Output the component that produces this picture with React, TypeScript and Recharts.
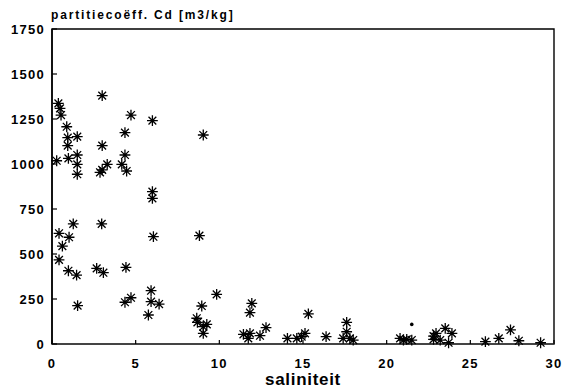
import React from 'react';
import {
    ScatterChart,
    Scatter,
    XAxis,
    YAxis,
    ReferenceArea
} from 'recharts';

// saliniteit (x) en partitiecoëfficiënt Cd (y)
const salinity = [
    3.0, 0.38, 0.48, 0.54, 0.88, 4.72, 6.0, 4.36, 9.04, 0.94,
    1.51, 0.94, 3.0, 4.36, 0.28, 0.98, 1.51, 1.51, 3.3, 4.17,
    2.87, 3.0, 4.46, 1.51, 6.0, 6.0, 1.27, 2.97, 0.42, 1.02,
    6.06, 8.81, 0.62, 0.42, 0.98, 1.47, 2.67, 3.07, 4.42, 1.53,
    4.36, 4.72, 5.92, 5.92, 6.4, 5.76, 9.84, 8.95, 8.65, 8.69,
    9.04, 9.25, 9.04, 11.94, 11.83, 12.79, 11.44, 11.83, 11.73, 12.43,
    15.32, 17.61, 14.07, 14.63, 14.92, 15.12, 16.38, 17.61, 17.4, 17.8,
    18.0, 20.8, 21.2, 21.0, 21.5, 22.8, 22.95, 23.5, 23.9, 23.2,
    23.7, 22.8, 25.9, 26.7, 27.4, 27.9, 29.2
];
const partition = [
    1380, 1337, 1309, 1272, 1207, 1272, 1241, 1174, 1161, 1146,
    1152, 1102, 1102, 1050, 1018, 1031, 1050, 998, 998, 998,
    954, 967, 961, 943, 846, 809, 667, 667, 615, 593,
    596, 602, 544, 467, 407, 383, 420, 396, 426, 213,
    232, 257, 296, 235, 222, 161, 276, 211, 143, 120,
    96, 109, 59, 226, 174, 91, 54, 59, 31, 46,
    167, 120, 31, 31, 41, 59, 41, 68, 31, 31,
    22, 31, 26, 22, 22, 26, 59, 87, 59, 22,
    7, 44, 13, 31, 78, 18, 7
];
// losse stip (ander symbool)
const dotSalinity = [21.5];
const dotPartition = [109];

const xTicks = [0, 5, 10, 15, 20, 25, 30];
const yTicks = [0, 250, 500, 750, 1000, 1250, 1500, 1750];

const data = salinity.map((s, i) => ({ x: s, y: partition[i] }));
const dotData = dotSalinity.map((s, i) => ({ x: s, y: dotPartition[i] }));

const FONT = '"Liberation Sans", Arial, sans-serif';

const Asterisk = (props: any) => {
    const { cx, cy } = props;
    const r = 5.4;
    const d = r * 0.72;
    return (
        <path
            d={`M${cx - r},${cy}H${cx + r}M${cx},${cy - r}V${cy + r}M${cx - d},${cy - d}L${cx + d},${cy + d}M${cx - d},${cy + d}L${cx + d},${cy - d}`}
            stroke="#000"
            strokeWidth={1.3}
            fill="none"
        />
    );
};

const Dot = (props: any) => <circle cx={props.cx} cy={props.cy} r={1.8} fill="#000" />;

const YTick = (props: any) => {
    const { x, y, payload } = props;
    return (
        <g>
            <line x1={x + 7} x2={x + 12} y1={y} y2={y} stroke="#000" strokeWidth={1.2} />
            <text x={x} y={y} dy={5} textAnchor="end" fontFamily={FONT} fontWeight="bold" fontSize={13} letterSpacing={1.3} fill="#000">
                {payload.value}
            </text>
        </g>
    );
};

const XTick = (props: any) => {
    const { x, y, payload } = props;
    return (
        <g>
            <line x1={x} x2={x} y1={y - 6} y2={y - 10} stroke="#000" strokeWidth={1.2} />
            <text x={x} y={y + 18} textAnchor="middle" fontFamily={FONT} fontWeight="bold" fontSize={13} letterSpacing={1.3} fill="#000">
                {payload.value}
            </text>
        </g>
    );
};

export default function App() {
    return (
        <div style={{ position: 'absolute', left: 0, top: 0, width: 564, height: 390, background: '#fff' }}>
            <div style={{
                position: 'absolute', left: 51, top: 8, fontFamily: FONT, fontWeight: 'bold',
                fontSize: 12, lineHeight: '14px', letterSpacing: 1.85, color: '#000', whiteSpace: 'nowrap'
            }}>
                partitiecoëff. Cd [m3/kg]
            </div>
            <ScatterChart width={564} height={390} margin={{ top: 29, right: 10, bottom: 2, left: 10 }}>
                <XAxis
                    type="number"
                    dataKey="x"
                    domain={[0, 30]}
                    ticks={xTicks}
                    interval={0}
                    height={44}
                    tickSize={0}
                    tickMargin={6}
                    tick={<XTick />}
                    axisLine={{ stroke: '#444', strokeWidth: 2 }}
                    label={{ value: 'saliniteit', position: 'insideBottom', offset: 3, fontFamily: FONT, fontSize: 17, fontWeight: 'bold', letterSpacing: 0.7, fill: '#000' }}
                />
                <YAxis
                    type="number"
                    dataKey="y"
                    domain={[0, 1750]}
                    ticks={yTicks}
                    interval={0}
                    width={42}
                    tickSize={0}
                    tickMargin={7}
                    tick={<YTick />}
                    axisLine={{ stroke: '#000', strokeWidth: 1.5 }}
                />
                <ReferenceArea x1={0} x2={30} y1={0} y2={1750} fill="none" stroke="#000" strokeWidth={1.4} />
                <Scatter data={data} shape={<Asterisk />} isAnimationActive={false} />
                <Scatter data={dotData} shape={<Dot />} isAnimationActive={false} />
            </ScatterChart>
        </div>
    );
}
